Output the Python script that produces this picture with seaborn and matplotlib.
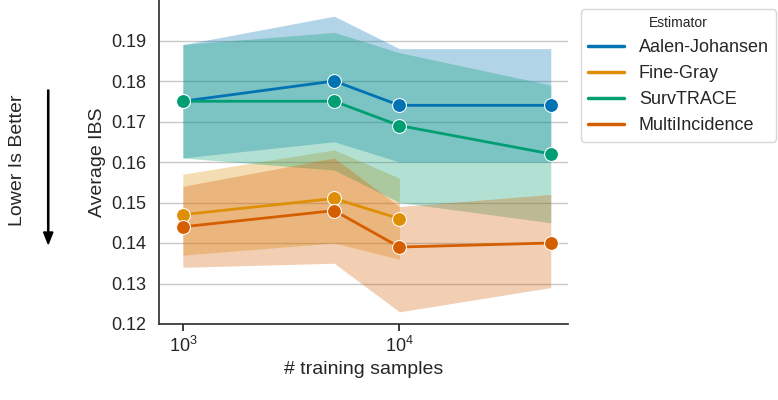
import numpy as np
import pandas as pd
import matplotlib
matplotlib.use("Agg")
import matplotlib.pyplot as plt
from matplotlib.lines import Line2D
import seaborn as sns

# data
n_samples = [1000, 5000, 10000, 50000]
estimators = ["Aalen-Johansen", "Fine-Gray", "SurvTRACE", "MultiIncidence"]
aj_mean = [0.175, 0.180, 0.174, 0.174]
aj_low = [0.161, 0.165, 0.160, 0.160]
aj_high = [0.189, 0.196, 0.188, 0.188]
fg_mean = [0.147, 0.151, 0.146]
fg_low = [0.137, 0.140, 0.136]
fg_high = [0.157, 0.163, 0.156]
st_mean = [0.175, 0.175, 0.169, 0.162]
st_low = [0.161, 0.158, 0.150, 0.145]
st_high = [0.189, 0.192, 0.187, 0.179]
mi_mean = [0.144, 0.148, 0.139, 0.140]
mi_low = [0.134, 0.135, 0.123, 0.129]
mi_high = [0.154, 0.161, 0.149, 0.152]

series = {
    "Aalen-Johansen": (aj_mean, aj_low, aj_high),
    "Fine-Gray": (fg_mean, fg_low, fg_high),
    "SurvTRACE": (st_mean, st_low, st_high),
    "MultiIncidence": (mi_mean, mi_low, mi_high),
}
rows = []
for name, (m, lo, hi) in series.items():
    for x, a, b, c in zip(n_samples, m, lo, hi):
        rows.append({"n": x, "ibs": a, "low": b, "high": c, "Estimator": name})
df = pd.DataFrame(rows)

sns.set_theme(style="white", context="notebook")
plt.rcParams["font.family"] = ["Liberation Sans", "DejaVu Sans"]
palette = dict(zip(estimators, sns.color_palette("colorblind", 4)))

fig = plt.figure(figsize=(7.78, 4.0), dpi=100)
ax = fig.add_axes([0.205, 0.19, 0.525, 0.81])

for name in estimators:
    sub = df[df["Estimator"] == name]
    ax.fill_between(sub["n"], sub["low"], sub["high"], color=palette[name], alpha=0.3, lw=0)
sns.lineplot(data=df, x="n", y="ibs", hue="Estimator", hue_order=estimators,
             palette=palette, marker="o", markersize=10, markeredgecolor="white",
             linewidth=2, ax=ax, legend=False)

ax.set_xscale("log")
ax.set_xlim(780, 60000)
ax.minorticks_off()
ax.set_ylim(0.12, 0.2)
ax.set_yticks([0.12, 0.13, 0.14, 0.15, 0.16, 0.17, 0.18, 0.19])
ax.yaxis.grid(True, color="#c8c8c8")
ax.tick_params(axis="x", which="major", bottom=True, length=5, labelsize=13)
ax.tick_params(axis="y", labelsize=13)
ax.set_xlabel("# training samples", fontsize=14)
ax.set_ylabel("Average IBS", fontsize=14)
for s in ["top", "right"]:
    ax.spines[s].set_visible(False)
for s in ["left", "bottom"]:
    ax.spines[s].set_color("#333333")

handles = [Line2D([], [], color=palette[n], lw=2.5) for n in estimators]
ax.legend(handles, estimators, title="Estimator", loc="upper left",
          bbox_to_anchor=(1.01, 1.0), fontsize=13, title_fontsize=10, frameon=True)

fig.text(0.022, 0.6, "Lower Is Better", rotation=90, ha="center", va="center", fontsize=14)
fig.patches.append(matplotlib.patches.FancyArrow(0.062, 0.775, 0, -0.355, width=0.0015,
                   head_width=0.012, head_length=0.03, color="black",
                   transform=fig.transFigure, figure=fig))

fig.savefig("out.png", dpi=100)
